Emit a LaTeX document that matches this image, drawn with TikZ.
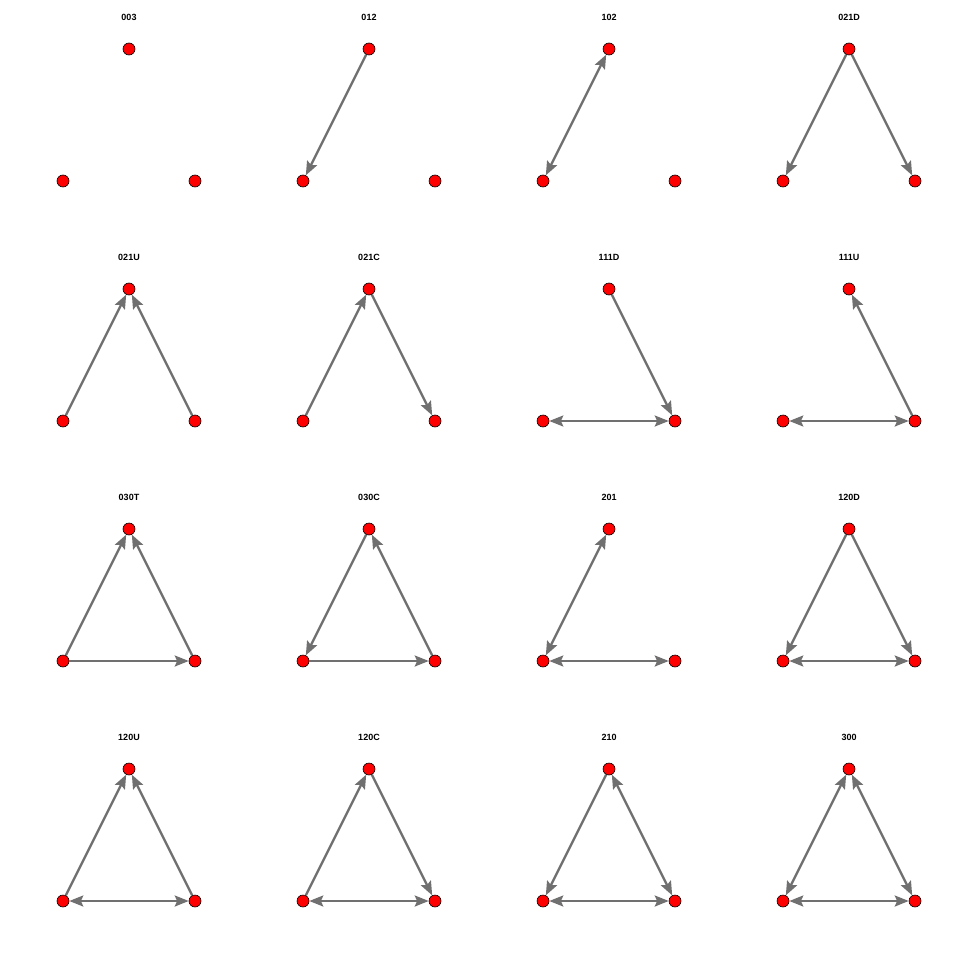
\documentclass[tikz,border=0pt]{standalone}
\usepackage{fontspec}
\setmainfont{Liberation Sans}
\usetikzlibrary{arrows.meta}
\definecolor{edgegray}{RGB}{112,112,112}
\newcommand{\mktriad}[4]{%
  \node[ttl] (#1-t) at (#2+129,#3+17) {#4};
  \node[vtx] (#1-T) at (#2+129,#3+49) {};
  \node[vtx] (#1-L) at (#2+63,#3+181) {};
  \node[vtx] (#1-R) at (#2+195,#3+181) {};
}
\begin{document}
\begin{tikzpicture}[x=1pt,y=-1pt,
  vtx/.style={circle,fill=red,draw=black,line width=0.6pt,minimum size=12pt,inner sep=0pt},
  ttl/.style={font=\fontsize{9}{10}\selectfont\bfseries,inner sep=0pt},
  arr/.style={draw=edgegray,line width=2.3pt,-{Stealth[length=14pt,width=11pt,inset=2.5pt]}},
  mut/.style={draw=edgegray,line width=2.3pt,{Stealth[length=14pt,width=11pt,inset=2.5pt]}-{Stealth[length=14pt,width=11pt,inset=2.5pt]}}]
\useasboundingbox[fill=white] (0,0) rectangle (960,960);
% row 1
\mktriad{a}{0}{0}{003}
\mktriad{b}{240}{0}{012}
\mktriad{c}{480}{0}{102}
\mktriad{d}{720}{0}{021D}
% row 2
\mktriad{e}{0}{240}{021U}
\mktriad{f}{240}{240}{021C}
\mktriad{g}{480}{240}{111D}
\mktriad{h}{720}{240}{111U}
% row 3
\mktriad{i}{0}{480}{030T}
\mktriad{j}{240}{480}{030C}
\mktriad{k}{480}{480}{201}
\mktriad{l}{720}{480}{120D}
% row 4
\mktriad{m}{0}{720}{120U}
\mktriad{n}{240}{720}{120C}
\mktriad{o}{480}{720}{210}
\mktriad{p}{720}{720}{300}
% edges
\path[arr] (b-T) -- (b-L);
\path[mut] (c-T) -- (c-L);
\path[arr] (d-T) -- (d-L);
\path[arr] (d-T) -- (d-R);
\path[arr] (e-L) -- (e-T);
\path[arr] (e-R) -- (e-T);
\path[arr] (f-L) -- (f-T);
\path[arr] (f-T) -- (f-R);
\path[arr] (g-T) -- (g-R);
\path[mut] (g-L) -- (g-R);
\path[arr] (h-R) -- (h-T);
\path[mut] (h-L) -- (h-R);
\path[arr] (i-L) -- (i-T);
\path[arr] (i-R) -- (i-T);
\path[arr] (i-L) -- (i-R);
\path[arr] (j-T) -- (j-L);
\path[arr] (j-R) -- (j-T);
\path[arr] (j-L) -- (j-R);
\path[mut] (k-T) -- (k-L);
\path[mut] (k-L) -- (k-R);
\path[arr] (l-T) -- (l-L);
\path[arr] (l-T) -- (l-R);
\path[mut] (l-L) -- (l-R);
\path[arr] (m-L) -- (m-T);
\path[arr] (m-R) -- (m-T);
\path[mut] (m-L) -- (m-R);
\path[arr] (n-L) -- (n-T);
\path[arr] (n-T) -- (n-R);
\path[mut] (n-L) -- (n-R);
\path[arr] (o-T) -- (o-L);
\path[mut] (o-T) -- (o-R);
\path[mut] (o-L) -- (o-R);
\path[mut] (p-T) -- (p-L);
\path[mut] (p-T) -- (p-R);
\path[mut] (p-L) -- (p-R);
\end{tikzpicture}
\end{document}
